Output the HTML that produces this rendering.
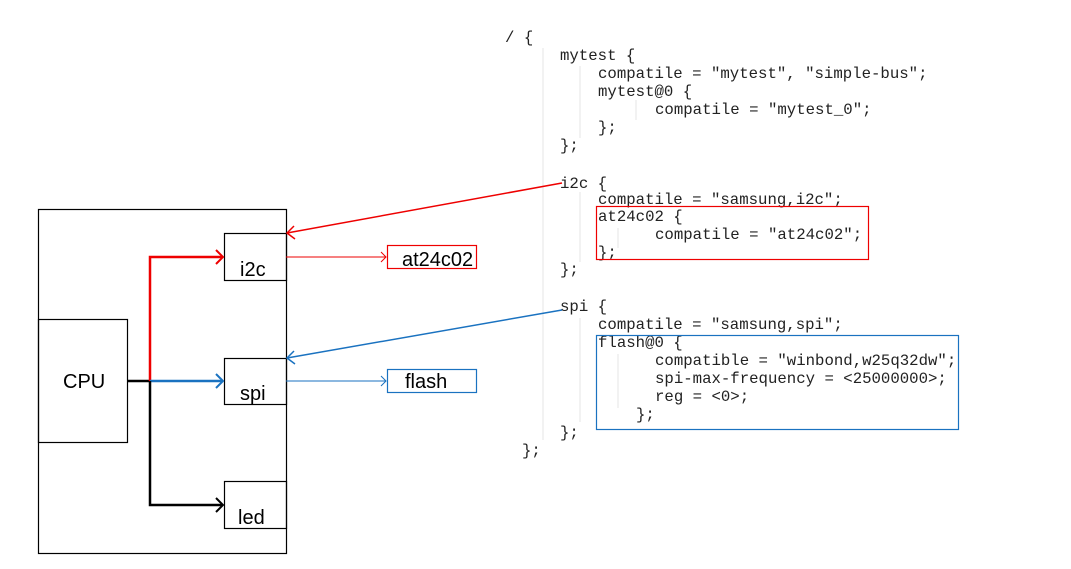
<!DOCTYPE html>
<html><head><meta charset="utf-8"><style>
html,body{margin:0;padding:0;background:#fff;}
svg{display:block;}
.c{font-family:"Liberation Mono",monospace;font-size:15.7px;fill:#222;}
.l{font-family:"Liberation Sans",sans-serif;font-size:20px;fill:#000;}
</style></head><body>
<svg width="1071" height="569" viewBox="0 0 1071 569" xmlns="http://www.w3.org/2000/svg">
<g stroke="#e4e4e4" stroke-width="1">
<line x1="543" y1="48" x2="543" y2="440"/>
<line x1="580" y1="66" x2="580" y2="138"/>
<line x1="580" y1="192" x2="580" y2="262"/>
<line x1="580" y1="318" x2="580" y2="422"/>
<line x1="636" y1="100" x2="636" y2="120"/>
<line x1="618" y1="228" x2="618" y2="248"/>
<line x1="618" y1="354" x2="618" y2="408"/>
</g>
<g class="c">
<text x="505" y="42">/ {</text>
<text x="560" y="60">mytest {</text>
<text x="598" y="78">compatile = "mytest", "simple-bus";</text>
<text x="598" y="96">mytest@0 {</text>
<text x="655" y="114">compatile = "mytest_0";</text>
<text x="598" y="132">};</text>
<text x="560" y="150">};</text>
<text x="560" y="188">i2c {</text>
<text x="598" y="204">compatile = "samsung,i2c";</text>
<text x="598" y="221">at24c02 {</text>
<text x="655" y="239">compatile = "at24c02";</text>
<text x="598" y="257">};</text>
<text x="560" y="274">};</text>
<text x="560" y="311">spi {</text>
<text x="598" y="329">compatile = "samsung,spi";</text>
<text x="598" y="347">flash@0 {</text>
<text x="655" y="365">compatible = "winbond,w25q32dw";</text>
<text x="655" y="383">spi-max-frequency = &lt;25000000&gt;;</text>
<text x="655" y="401">reg = &lt;0&gt;;</text>
<text x="636" y="419">};</text>
<text x="560" y="437">};</text>
<text x="522" y="455">};</text>
</g>
<rect x="596.5" y="206.5" width="272" height="53" fill="none" stroke="#e00" stroke-width="1.2"/>
<rect x="596.5" y="335.5" width="362" height="94" fill="none" stroke="#1a72c0" stroke-width="1.2"/>
<g fill="none" stroke="#000" stroke-width="1.2">
<rect x="38.5" y="209.5" width="248" height="344"/>
<rect x="38.5" y="319.5" width="89" height="123"/>
<rect x="224.5" y="233.5" width="62" height="47"/>
<rect x="224.5" y="358.5" width="62" height="46"/>
<rect x="224.5" y="481.5" width="62" height="47"/>
</g>
<rect x="387.5" y="245.5" width="89" height="23" fill="none" stroke="#e00" stroke-width="1.2"/>
<rect x="387.5" y="369.5" width="89" height="23" fill="none" stroke="#1a72c0" stroke-width="1.2"/>
<g class="l">
<text x="63" y="388">CPU</text>
<text x="240" y="276">i2c</text>
<text x="240" y="400">spi</text>
<text x="238" y="524">led</text>
<text x="402" y="266">at24c02</text>
<text x="405" y="388">flash</text>
</g>
<line x1="127" y1="381" x2="150" y2="381" stroke="#000" stroke-width="2.5"/>
<polyline points="150,381 150,257 222,257" fill="none" stroke="#e00" stroke-width="2.5"/>
<polyline points="216,250 223,257 216,264" fill="none" stroke="#e00" stroke-width="2"/>
<line x1="150" y1="381" x2="222" y2="381" stroke="#1a72c0" stroke-width="2.5"/>
<polyline points="216,374 223,381 216,388" fill="none" stroke="#1a72c0" stroke-width="2"/>
<polyline points="150,381 150,505 222,505" fill="none" stroke="#000" stroke-width="2.5"/>
<polyline points="216,498 223,505 216,512" fill="none" stroke="#000" stroke-width="2"/>
<line x1="286" y1="257" x2="386" y2="257" stroke="#e00" stroke-width="1"/>
<polyline points="381,252 386,257 381,262" fill="none" stroke="#e00" stroke-width="1"/>
<line x1="286" y1="381" x2="386" y2="381" stroke="#1a72c0" stroke-width="1"/>
<polyline points="381,376 386,381 381,386" fill="none" stroke="#1a72c0" stroke-width="1"/>
<line x1="562" y1="183" x2="287" y2="233" stroke="#e00" stroke-width="1.5"/>
<polyline points="294,226 287,233 295,239" fill="none" stroke="#e00" stroke-width="1.5"/>
<line x1="562" y1="310" x2="287" y2="358" stroke="#1a72c0" stroke-width="1.5"/>
<polyline points="294,351 287,358 295,364" fill="none" stroke="#1a72c0" stroke-width="1.5"/>
</svg>
</body></html>
